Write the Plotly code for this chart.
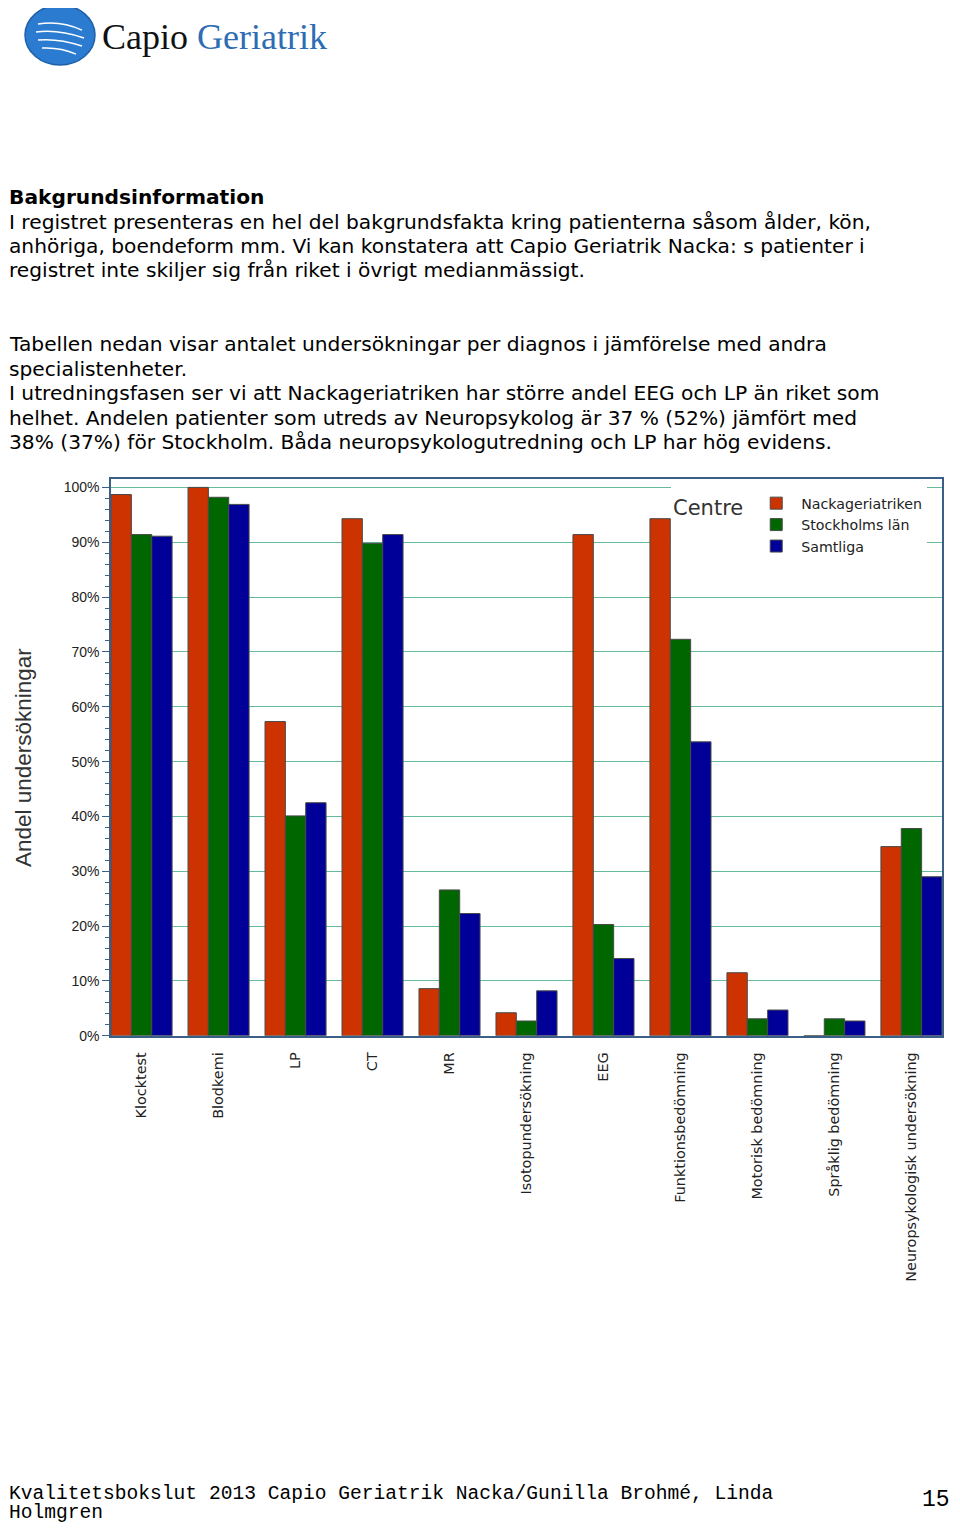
import plotly.graph_objects as go

# page is 960x1533, browser body adds an 8px margin around the figure;
# the photographed page comes out slightly squeezed vertically, SQ corrects for it
PAGE_W, PAGE_H, OFF, SQ = 960, 1533, 8, 0.994
W, H = PAGE_W - 2 * OFF, PAGE_H - 2 * OFF

# --- data -------------------------------------------------------------
categories = ["Klocktest", "Blodkemi", "LP", "CT", "MR", "Isotopundersökning", "EEG",
              "Funktionsbedömning", "Motorisk bedömning", "Språklig bedömning",
              "Neuropsykologisk undersökning"]
nacka = [98.7, 100.0, 57.3, 94.3, 8.6, 4.2, 91.4, 94.3, 11.5, 0.0, 34.5]
stockholm = [91.4, 98.2, 40.1, 89.8, 26.6, 2.7, 20.3, 72.3, 3.1, 3.1, 37.8]
samtliga = [91.1, 96.9, 42.5, 91.4, 22.3, 8.2, 14.1, 53.6, 4.7, 2.7, 29.0]
series_names = ["Nackageriatriken", "Stockholms län", "Samtliga"]
series_colors = ["#CC3300", "#006600", "#000099"]
y_ticks = list(range(0, 101, 10))
y_labels = [f"{v}%" for v in y_ticks]

body_lines = [
    ("<b>Bakgrundsinformation</b>", 197),
    ("I registret presenteras en hel del bakgrundsfakta kring patienterna såsom ålder, kön,", 222),
    ("anhöriga, boendeform mm. Vi kan konstatera att Capio Geriatrik Nacka: s patienter i", 246),
    ("registret inte skiljer sig från riket i övrigt medianmässigt.", 270),
    ("Tabellen nedan visar antalet undersökningar per diagnos i jämförelse med andra", 344),
    ("specialistenheter.", 369),
    ("I utredningsfasen ser vi att Nackageriatriken har större andel EEG och LP än riket som", 393),
    ("helhet. Andelen patienter som utreds av Neuropsykolog är 37 % (52%) jämfört med", 418),
    ("38% (37%) för Stockholm. Båda neuropsykologutredning och LP har hög evidens.", 442),
]
# last line squeezed a little so it stays inside the figure
footer_lines = [
    ("Kvalitetsbokslut 2013 Capio Geriatrik Nacka/Gunilla Brohmé, Linda", 1493),
    ("Holmgren", 1512),
]


def px(x):
    return max(0.0, min(1.0, (x - OFF) / W))


def py(y):
    return max(0.0, 1 - (y / SQ - OFF) / H)


fig = go.Figure()
for name, vals, col in zip(series_names, [nacka, stockholm, samtliga], series_colors):
    fig.add_trace(go.Bar(x=categories, y=vals, name=name,
                         marker=dict(color=col, line=dict(color="#4a4a4a", width=1))))

grid_col = "#66BB99"
frame_col = "#3B5F86"

fig.update_layout(
    width=W, height=H,
    margin=dict(l=0, r=0, t=0, b=0),
    paper_bgcolor="white", plot_bgcolor="white",
    barmode="group", bargap=0.207, bargroupgap=0,
    font=dict(family="Liberation Sans", color="#222"),
    showlegend=True,
    legend=dict(x=px(671), y=py(487), xanchor="left", yanchor="top",
                bgcolor="white", borderwidth=0, itemwidth=40,
                font=dict(family="DejaVu Sans", size=14.2, color="#222"),
                title=dict(text="Centre", side="left",
                           font=dict(size=21, color="#333")),
                tracegroupgap=0),
    xaxis=dict(domain=[px(111), px(942)], range=[-0.397, 10.397],
               tickangle=-90, tickfont=dict(family="DejaVu Sans", size=14.4, color="#222"),
               showline=True, linecolor=frame_col, linewidth=1.5, mirror=True,
               ticks="outside", ticklen=9, tickcolor="rgba(0,0,0,0)", showgrid=False),
    yaxis=dict(domain=[py(1035), py(479)], range=[0, 101.46],
               tickvals=y_ticks, ticktext=y_labels, tickfont=dict(size=14, color="#222"),
               ticks="outside", ticklen=7, tickcolor=frame_col,
               showline=True, linecolor=frame_col, linewidth=1.5, mirror=True,
               showgrid=True, gridcolor=grid_col, gridwidth=1.2, zeroline=False,
               minor=dict(dtick=2, ticks="outside", ticklen=4, tickcolor=frame_col,
                          showgrid=False),
               title=dict(text="Andel undersökningar", standoff=26,
                          font=dict(size=22.5, color="#333"))),
)

# body text
for txt, y in body_lines:
    fig.add_annotation(text=txt, xref="paper", yref="paper", x=0, y=py(y),
                       xanchor="left", yanchor="middle", showarrow=False, borderpad=0,
                       font=dict(family="DejaVu Sans", size=20.2, color="#000"))

# footer
for txt, y in footer_lines:
    fig.add_annotation(text=txt, xref="paper", yref="paper", x=0, y=py(y),
                       xanchor="left", yanchor="middle", showarrow=False, borderpad=0,
                       font=dict(family="Liberation Mono", size=19.6, color="#000"))
fig.add_annotation(text="15", xref="paper", yref="paper", x=1, y=py(1499),
                   xanchor="right", yanchor="middle", showarrow=False,
                   font=dict(family="Liberation Mono", size=23, color="#000"))

# logo
fig.add_shape(type="circle", xref="paper", yref="paper",
              x0=px(25), x1=px(95), y0=py(65), y1=py(5),
              fillcolor="#2B7BD0", line=dict(color="#1F5FA8", width=1.5))
pts = [(38, 24), (60, 20), (82, 30), (36, 32), (58, 29), (84, 38),
       (38, 40), (58, 38), (82, 46), (42, 48), (60, 47), (76, 54)]
path = ""
for i in range(0, len(pts), 3):
    a, b, c = pts[i:i + 3]
    path += f"M {px(a[0])},{py(a[1])} Q {px(b[0])},{py(b[1])} {px(c[0])},{py(c[1])} "
fig.add_shape(type="path", xref="paper", yref="paper", path=path,
              line=dict(color="white", width=1.5))
fig.add_annotation(text="Capio <span style='color:#2E6DB4'>Geriatrik</span>",
                   xref="paper", yref="paper", x=px(100), y=py(37),
                   xanchor="left", yanchor="middle", showarrow=False,
                   font=dict(family="Liberation Serif", size=36, color="#111"))

fig.write_html("out.html")
